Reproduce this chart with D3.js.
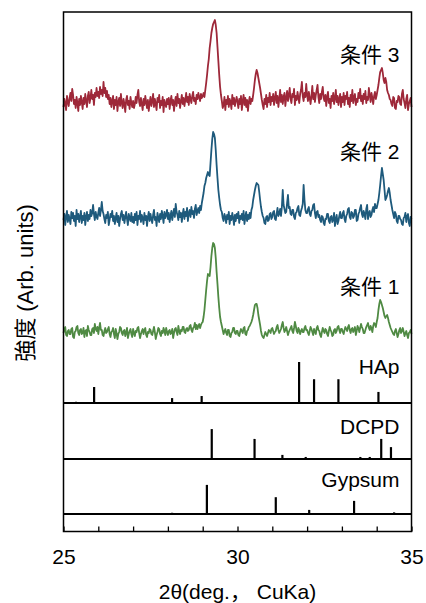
<!DOCTYPE html>
<html>
<head>
<meta charset="utf-8">
<script src="https://cdn.jsdelivr.net/npm/d3@7"></script>
<style>
  body { margin: 0; background: #fff; }
  text { font-family: "Liberation Sans", "Noto Sans CJK JP", sans-serif; fill: #000; }
</style>
</head>
<body>
<div id="chart"></div>
<script>
// XRD patterns, 2theta from 25 to 35 in 0.025 deg steps
var twoThetaStart = 25;
var twoThetaStep = 0.025;

var cond1 = [
  19, 23, 25, 17, 16, 21, 22, 18, 18, 23, 24, 15, 14, 20, 21, 25, 26, 19, 17, 22,
  23, 18, 19, 24, 15, 21, 22, 16, 26, 22, 20, 17, 17, 23, 24, 19, 28, 23, 21, 25,
  18, 24, 29, 22, 22, 17, 16, 21, 24, 19, 20, 23, 25, 18, 15, 20, 21, 24, 18, 14,
  23, 19, 13, 18, 20, 25, 24, 19, 17, 21, 22, 16, 19, 24, 14, 18, 21, 23, 18, 15,
  23, 19, 16, 21, 20, 24, 25, 19, 14, 18, 21, 23, 18, 22, 24, 17, 15, 20, 19, 23,
  22, 18, 17, 21, 25, 20, 13, 17, 20, 24, 23, 18, 16, 21, 19, 24, 21, 17, 24, 20,
  17, 21, 22, 18, 19, 23, 14, 19, 23, 24, 20, 17, 26, 21, 18, 22, 21, 25, 25, 20,
  19, 23, 24, 21, 22, 26, 27, 22, 20, 24, 25, 29, 23, 27, 23, 26, 28, 24, 27, 29,
  30, 35, 42, 52, 62, 71, 78, 77, 76, 85, 96, 104, 109, 108, 104, 94, 80, 68, 55, 44,
  35, 30, 26, 22, 18, 21, 23, 19, 17, 22, 22, 16, 15, 19, 20, 24, 24, 19, 18, 21,
  21, 17, 16, 20, 23, 21, 19, 24, 25, 18, 17, 21, 22, 25, 26, 28, 30, 33, 37, 42,
  47, 48, 48, 44, 37, 32, 27, 21, 17, 15, 14, 17, 20, 18, 16, 19, 22, 21, 19, 23,
  24, 21, 18, 20, 21, 25, 27, 22, 19, 21, 23, 27, 30, 24, 20, 22, 25, 21, 17, 20,
  22, 24, 26, 21, 19, 24, 30, 26, 21, 19, 24, 22, 18, 21, 23, 20, 20, 24, 26, 22,
  22, 19, 17, 21, 25, 23, 20, 17, 23, 20, 18, 24, 26, 22, 21, 17, 15, 20, 24, 21,
  19, 23, 22, 18, 16, 21, 25, 22, 20, 16, 17, 22, 23, 19, 21, 25, 26, 22, 19, 23,
  23, 20, 18, 22, 25, 23, 21, 25, 27, 22, 19, 23, 24, 20, 22, 25, 17, 21, 26, 24,
  20, 24, 28, 25, 23, 19, 19, 22, 25, 27, 29, 24, 22, 26, 24, 20, 26, 29, 28, 25,
  30, 34, 42, 48, 52, 50, 47, 44, 40, 36, 34, 36, 37, 34, 30, 27, 24, 22, 20, 18,
  17, 21, 23, 19, 15, 18, 22, 24, 19, 21, 24, 20, 16, 19, 21, 17, 14, 19, 20, 22, 18
];
var cond2 = [
  18, 24, 13, 21, 27, 16, 23, 19, 14, 26, 20, 25, 17, 22, 12, 28, 19, 24, 16, 21,
  27, 15, 22, 18, 25, 13, 21, 26, 17, 23, 19, 28, 22, 25, 33, 24, 18, 26, 21, 19,
  25, 30, 22, 28, 36, 27, 24, 19, 15, 23, 20, 26, 13, 18, 24, 21, 27, 17, 22, 14,
  20, 25, 16, 22, 12, 19, 24, 27, 18, 23, 15, 21, 26, 19, 13, 24, 20, 17, 25, 16,
  21, 15, 24, 18, 26, 13, 22, 19, 27, 16, 23, 20, 14, 25, 18, 22, 12, 21, 26, 17,
  24, 19, 15, 23, 28, 18, 21, 12, 25, 20, 16, 24, 19, 27, 22, 15, 26, 20, 23, 28,
  19, 25, 16, 22, 27, 18, 24, 29, 21, 34, 26, 23, 18, 27, 21, 25, 16, 24, 29, 19,
  26, 22, 30, 17, 25, 28, 21, 31, 24, 27, 20, 29, 33, 23, 27, 30, 25, 32, 28, 35,
  40, 45, 52, 55, 60, 63, 66, 63, 62, 75, 88, 99, 106, 104, 100, 88, 73, 60, 48, 40,
  33, 28, 26, 20, 17, 24, 21, 15, 23, 19, 26, 14, 22, 18, 25, 20, 13, 23, 17, 24,
  20, 26, 15, 22, 19, 24, 18, 27, 14, 21, 26, 17, 23, 19, 25, 20, 28, 31, 38, 43,
  48, 52, 55, 54, 53, 46, 38, 31, 26, 22, 20, 15, 14, 21, 22, 17, 18, 24, 25, 19,
  21, 26, 27, 19, 18, 24, 30, 22, 24, 29, 22, 31, 48, 33, 29, 25, 26, 35, 43, 30,
  31, 24, 23, 28, 28, 21, 19, 25, 26, 30, 32, 23, 22, 27, 30, 34, 53, 38, 28, 25,
  25, 29, 31, 24, 22, 27, 28, 33, 34, 25, 20, 26, 27, 21, 23, 18, 16, 22, 21, 15,
  13, 19, 19, 24, 24, 17, 15, 21, 22, 16, 18, 25, 12, 19, 23, 14, 17, 22, 26, 20,
  20, 25, 27, 19, 16, 22, 24, 29, 30, 21, 19, 26, 25, 20, 22, 28, 28, 17, 18, 24,
  26, 30, 33, 24, 21, 27, 24, 19, 29, 33, 19, 25, 27, 21, 23, 28, 31, 26, 34, 30,
  30, 34, 38, 45, 53, 62, 70, 64, 58, 48, 38, 40, 43, 47, 50, 45, 38, 33, 28, 24,
  20, 26, 24, 17, 15, 22, 22, 19, 18, 14, 13, 20, 21, 25, 16, 22, 24, 15, 12, 21, 19
];
var cond3 = [
  16, 24, 19, 13, 27, 21, 17, 25, 30, 22, 34, 28, 19, 23, 15, 26, 20, 12, 24, 18,
  27, 21, 14, 25, 19, 29, 22, 16, 27, 31, 20, 25, 33, 24, 28, 18, 30, 26, 35, 27,
  31, 25, 36, 29, 33, 27, 41, 30, 35, 26, 32, 24, 28, 19, 25, 16, 22, 27, 14, 23,
  18, 26, 12, 21, 25, 17, 29, 20, 15, 24, 19, 11, 23, 27, 18, 22, 14, 26, 20, 16,
  22, 15, 19, 26, 20, 28, 33, 21, 17, 25, 19, 13, 24, 18, 27, 21, 15, 23, 12, 20,
  26, 17, 22, 29, 16, 24, 19, 13, 25, 21, 28, 15, 22, 18, 26, 11, 23, 19, 16, 24,
  19, 25, 14, 22, 27, 18, 23, 12, 21, 26, 17, 29, 20, 24, 15, 22, 28, 19, 25, 17,
  23, 30, 21, 26, 18, 29, 24, 20, 27, 31, 22, 25, 19, 28, 24, 30, 26, 22, 29, 25,
  27, 30, 26, 33, 40, 48, 57, 64, 75, 82, 90, 95, 99, 101, 103, 98, 90, 76, 62, 48,
  36, 28, 22, 15, 18, 26, 13, 23, 19, 27, 16, 24, 21, 14, 28, 19, 25, 17, 22, 26,
  21, 15, 24, 19, 27, 13, 22, 28, 18, 25, 16, 23, 12, 21, 26, 19, 24, 22, 28, 35,
  43, 49, 53, 50, 45, 40, 35, 29, 23, 18, 14, 24, 19, 28, 16, 25, 21, 30, 18, 26,
  22, 29, 18, 25, 31, 20, 27, 16, 24, 33, 21, 28, 19, 26, 30, 17, 25, 32, 22, 28,
  35, 24, 20, 29, 26, 34, 18, 27, 23, 31, 25, 20, 29, 33, 41, 27, 22, 30, 26, 39,
  28, 22, 31, 25, 19, 27, 37, 24, 30, 21, 28, 33, 38, 26, 20, 29, 24, 31, 36, 25,
  22, 28, 17, 26, 31, 20, 24, 15, 27, 22, 30, 19, 25, 33, 21, 27, 18, 24, 29, 16,
  26, 21, 30, 18, 27, 24, 31, 19, 25, 16, 28, 22, 33, 20, 26, 29, 18, 24, 21, 30,
  25, 34, 22, 27, 19, 29, 24, 32, 20, 26, 23, 35, 28, 21, 30, 25, 19, 27, 31, 24,
  28, 33, 38, 45, 51, 53, 55, 50, 43, 40, 45, 41, 33, 30, 28, 24, 23, 19, 17, 26,
  25, 15, 14, 22, 21, 27, 26, 19, 18, 29, 33, 24, 20, 15, 24, 28, 13, 19, 22, 25, 16
];
var seriesNames = ["条件 1", "条件 2", "条件 3"];
var seriesOffsets = [51, 165, 280];

// reference patterns (relative intensity)
var hapPos = [25.36, 25.88, 28.12, 28.97, 31.77, 32.20, 32.90, 34.05];
var hapInt = [3, 39, 12, 17, 100, 58, 58, 27];
var dcpdPos = [29.26, 30.49, 31.29, 31.96, 33.53, 33.80, 34.13, 34.41];
var dcpdInt = [73, 49, 10, 5, 5, 5, 49, 29];
var gypPos = [28.12, 29.12, 31.10, 32.06, 33.35, 34.50];
var gypInt = [3, 71, 41, 10, 32, 4];

var xTicks = [25, 26, 27, 28, 29, 30, 31, 32, 33, 34, 35];
var xLabels = [25, 30, 35];

// chart setup
var svgWidth = 426;
var svgHeight = 603;
var margin = { top: 12, left: 63.5, right: 14.5, bottom: 71.5 };
var width = svgWidth - margin.left - margin.right;
var height = svgHeight - margin.top - margin.bottom;

var colors = ["#4f8a43", "#1e5a7c", "#9e2839"];

var svg = d3.select("#chart")
  .append("svg")
  .attr("width", svgWidth)
  .attr("height", svgHeight);

var g = svg.append("g")
  .attr("transform", `translate(${margin.left}, ${margin.top})`);

var xScale = d3.scaleLinear().domain([25, 35]).range([0, width]);

// main panel (patterns + HAp sticks)
var hapBase = 391;
var yScale = d3.scaleLinear().domain([0, 391]).range([hapBase, 0]);
var stickScale = d3.scaleLinear().domain([0, 100]).range([0, 41]);

var dcpdBase = 447;
var gypBase = 502;

// patterns
var allSeries = [cond1, cond2, cond3];
var line = d3.line()
  .x((d, i) => xScale(twoThetaStart + i * twoThetaStep))
  .y(d => d);

allSeries.forEach(function(vals, k) {
  g.append("path")
    .attr("d", line(vals.map(v => yScale(v + seriesOffsets[k]))))
    .attr("fill", "none")
    .attr("stroke", colors[k])
    .attr("stroke-width", 1.8)
    .attr("stroke-linejoin", "round");
});

// series labels
var labelY = [275, 140, 43];
seriesNames.forEach(function(name, k) {
  g.append("text")
    .attr("x", width - 12)
    .attr("y", labelY[k])
    .attr("dy", "0.35em")
    .attr("text-anchor", "end")
    .style("font-size", "21px")
    .text(name);
});

// stick patterns
function drawSticks(pos, inten, base) {
  g.selectAll(null)
    .data(pos)
    .enter()
    .append("line")
    .attr("x1", d => xScale(d))
    .attr("x2", d => xScale(d))
    .attr("y1", base)
    .attr("y2", (d, i) => base - stickScale(inten[i]))
    .attr("stroke", "#000")
    .attr("stroke-width", 2.2);
}
drawSticks(hapPos, hapInt, hapBase);
drawSticks(dcpdPos, dcpdInt, dcpdBase);
drawSticks(gypPos, gypInt, gypBase);

// panel separators
[hapBase, dcpdBase, gypBase].forEach(function(y) {
  g.append("line")
    .attr("x1", 0).attr("x2", width)
    .attr("y1", y).attr("y2", y)
    .attr("stroke", "#000")
    .attr("stroke-width", 2);
});

var refLabels = [["HAp", 355], ["DCPD", 415], ["Gypsum", 468]];
refLabels.forEach(function(r) {
  g.append("text")
    .attr("x", width - 12)
    .attr("y", r[1])
    .attr("dy", "0.35em")
    .attr("text-anchor", "end")
    .style("font-size", "21px")
    .text(r[0]);
});

// frame
g.append("rect")
  .attr("width", width)
  .attr("height", height)
  .attr("fill", "none")
  .attr("stroke", "#000")
  .attr("stroke-width", 1.5);

// x axis with inner ticks
var bottomAxis = d3.axisBottom(xScale)
  .tickValues(xTicks)
  .tickSize(-5)
  .tickPadding(18)
  .tickFormat(d => xLabels.includes(d) ? d : "");

var xAxis = g.append("g")
  .attr("transform", `translate(0, ${height})`)
  .call(bottomAxis);
xAxis.select(".domain").remove();
xAxis.selectAll("line").attr("stroke-width", 1.3);
xAxis.selectAll("text")
  .style("font-size", "21px")
  .style("font-family", "'Liberation Sans', sans-serif")
  .attr("fill", "#000");

// axis titles
svg.append("text")
  .attr("x", margin.left + width / 2)
  .attr("y", 592)
  .attr("dy", "0.35em")
  .attr("text-anchor", "middle")
  .style("font-size", "21px")
  .text("2θ(deg.， CuKa)");

svg.append("text")
  .attr("transform", "translate(25, 283) rotate(-90)")
  .attr("dy", "0.35em")
  .attr("text-anchor", "middle")
  .style("font-size", "22px")
  .text("強度 (Arb. units)");
</script>
</body>
</html>
